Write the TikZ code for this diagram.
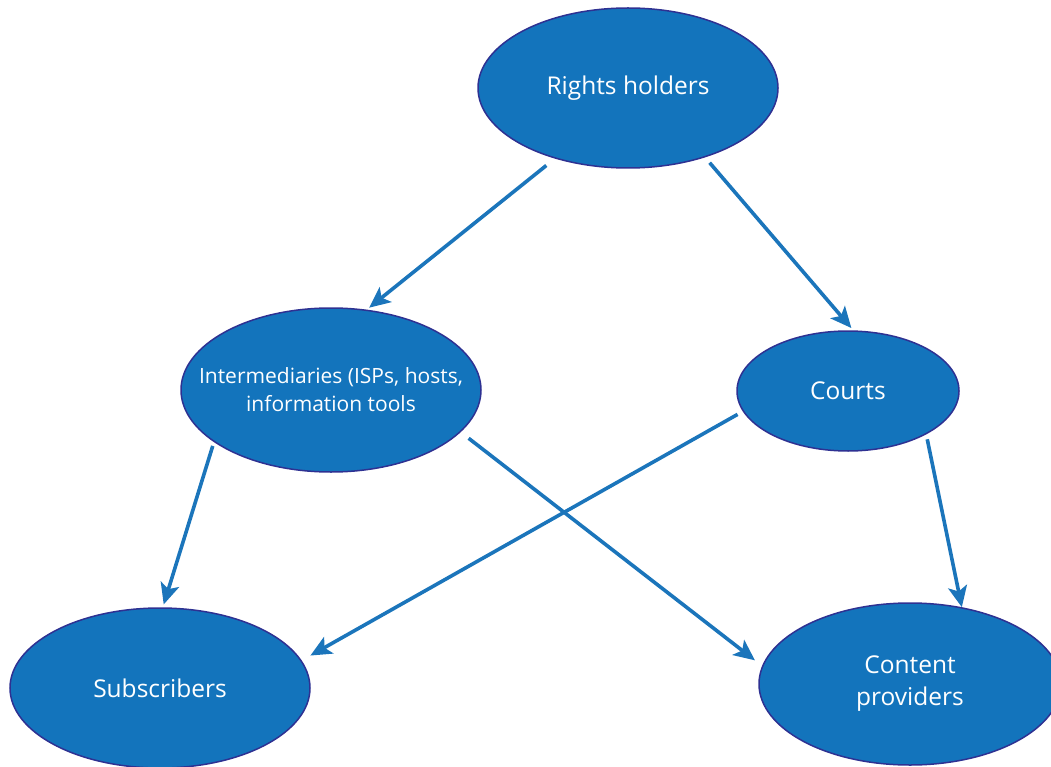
\documentclass[tikz,border=0pt]{standalone}
\usepackage{fontspec}
\setmainfont{Open Sans}
\usetikzlibrary{shapes.geometric,arrows.meta}
\definecolor{ovalblue}{HTML}{1374BC}
\definecolor{ovalrim}{HTML}{2E3192}
\definecolor{arrowblue}{HTML}{1B75BB}
\tikzset{
  party/.style={ellipse, fill=ovalblue, draw=ovalrim, line width=1.5pt, inner sep=0,
    text=white, align=center, font=\fontsize{24.5}{32}\selectfont},
  link/.style={draw=arrowblue, line width=3.6pt,
    -{Stealth[length=21pt,width=19pt,inset=5pt]}, shorten <=7pt, shorten >=3pt}
}
\begin{document}
\begin{tikzpicture}[x=1pt,y=-1pt]
\clip (0,0) rectangle (1051,767);
\node[party, minimum width=300pt, minimum height=160pt] (rights) at (628,88) {Rights holders};
\node[party, minimum width=300pt, minimum height=164pt, inner xsep=-30pt,
  font=\fontsize{21}{28}\selectfont] (inter) at (331,390)
  {Intermediaries (ISPs, hosts,\\information tools};
\node[party, minimum width=222pt, minimum height=120pt] (courts) at (848,391) {Courts};
\node[party, minimum width=300pt, minimum height=160pt] (subs) at (160,688) {Subscribers};
\node[party, minimum width=302pt, minimum height=162pt] (content) at (910,684) {Content\\providers};
% arrows
\draw[link, shorten <=11pt] (rights.224) -- (inter.66);
\draw[link] (rights.318) -- (courts.85);
\draw[link, shorten <=4pt] (inter.204) -- (subs.88);
\draw[link, shorten <=10pt, shorten >=9pt] (inter.342) -- (content.173);
\draw[link, shorten <=6pt, shorten >=10pt] (courts.191) -- (subs.11);
\draw[link, shorten <=5pt, shorten >=0pt] (courts.331) -- (content.56);
\end{tikzpicture}
\end{document}
